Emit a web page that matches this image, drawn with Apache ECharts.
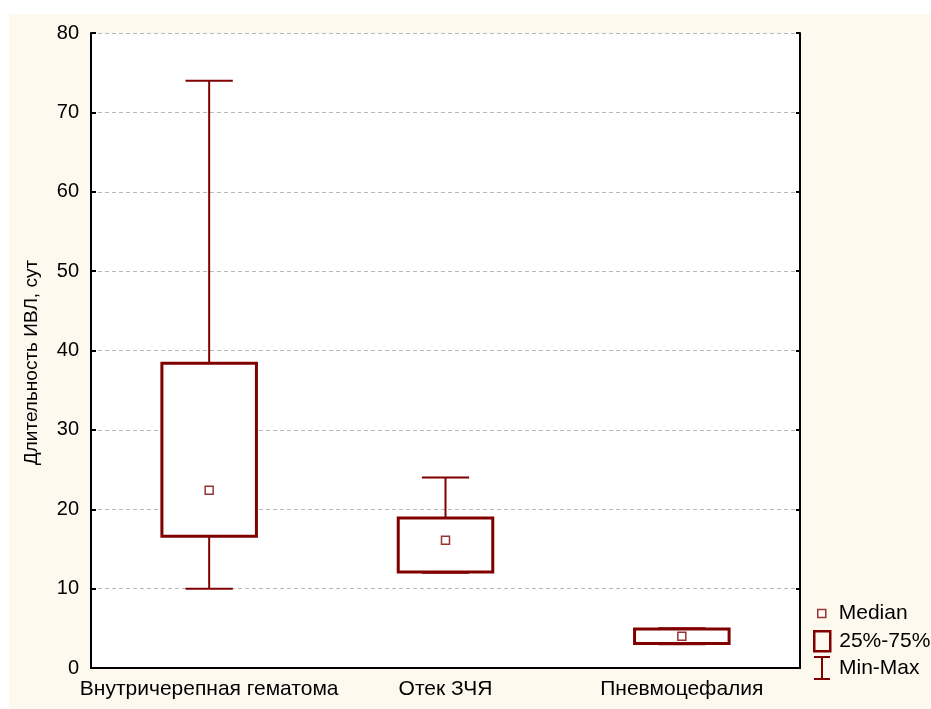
<!DOCTYPE html>
<html>
<head>
<meta charset="utf-8">
<script src="https://cdn.jsdelivr.net/npm/echarts@6/dist/echarts.min.js"></script>
<style>
html,body{margin:0;padding:0;background:#fff;}
#bg{position:absolute;left:9px;top:14px;width:922px;height:695px;background:#fef9ef;}
#chart{position:absolute;left:0;top:0;width:931px;height:709px;}
</style>
</head>
<body>
<div id="bg"></div>
<div id="chart"></div>
<script>
const categories = ['Внутричерепная гематома', 'Отек ЗЧЯ', 'Пневмоцефалия'];
const minVals = [10, 12, 3];
const q1Vals = [16.6, 12.1, 3.1];
const medianVals = [22.4, 16.1, 4.0];
const q3Vals = [38.4, 18.9, 4.9];
const maxVals = [74, 24, 5];
const yTicks = [0, 10, 20, 30, 40, 50, 60, 70, 80];
const yTitle = 'Длительность ИВЛ, сут';
const legendNames = ['Median', '25%-75%', 'Min-Max'];

const RED = '#800000';
const FONT = '"Liberation Sans", Arial, sans-serif';

const chart = echarts.init(document.getElementById('chart'), null, {renderer: 'canvas'});

const whiskerData = categories.map((c, i) => [i, minVals[i], maxVals[i]]);
const boxData = categories.map((c, i) => [i, q1Vals[i], q3Vals[i]]);
const medData = categories.map((c, i) => [i, medianVals[i]]);

function renderWhisker(params, api) {
  const i = api.value(0);
  const lo = api.coord([i, api.value(1)]);
  const hi = api.coord([i, api.value(2)]);
  const cw = api.size([1, 0])[0] * 0.2;
  const st = {stroke: RED, lineWidth: 2, fill: null};
  return {
    type: 'group',
    children: [
      {type: 'line', shape: {x1: lo[0], y1: lo[1], x2: hi[0], y2: hi[1]}, style: st},
      {type: 'line', shape: {x1: lo[0] - cw / 2, y1: lo[1], x2: lo[0] + cw / 2, y2: lo[1]}, style: st},
      {type: 'line', shape: {x1: hi[0] - cw / 2, y1: hi[1], x2: hi[0] + cw / 2, y2: hi[1]}, style: st}
    ]
  };
}

function renderBox(params, api) {
  const i = api.value(0);
  const lo = api.coord([i, api.value(1)]);
  const hi = api.coord([i, api.value(2)]);
  const w = api.size([1, 0])[0] * 0.4;
  return {
    type: 'rect',
    shape: {x: lo[0] - w / 2, y: hi[1], width: w, height: lo[1] - hi[1]},
    style: {fill: '#fff', stroke: RED, lineWidth: 3}
  };
}

const legendBase = {
  orient: 'vertical', padding: 0, selectedMode: false,
  textStyle: {fontFamily: FONT, fontSize: 21, color: '#000'}
};

const option = {
  animation: false,
  backgroundColor: 'transparent',
  grid: {left: 91, right: 131, top: 33, bottom: 41, show: true, backgroundColor: '#fff', borderWidth: 0},
  legend: [
    Object.assign({}, legendBase, {left: 817, top: 603, itemWidth: 8, itemHeight: 8,
      textStyle: Object.assign({}, legendBase.textStyle, {padding: [0, 0, 0, 8]}),
      data: [{name: legendNames[0], icon: 'path://M0,0L10,0L10,10L0,10Z', itemStyle: {color: '#fff', borderColor: RED, borderWidth: 1.5}}]}),
    Object.assign({}, legendBase, {left: 813, top: 630, itemWidth: 16, itemHeight: 20,
      textStyle: Object.assign({}, legendBase.textStyle, {padding: [0, 0, 0, 4]}),
      data: [{name: legendNames[1], icon: 'path://M0,0L16,0L16,20L0,20Z', itemStyle: {color: 'rgba(0,0,0,0)', borderColor: RED, borderWidth: 2.5}}]}),
    Object.assign({}, legendBase, {left: 813, top: 656, itemWidth: 16, itemHeight: 22,
      textStyle: Object.assign({}, legendBase.textStyle, {padding: [0, 0, 5, 4]}),
      data: [{name: legendNames[2], icon: 'path://M0,0L16,0M8,0L8,22M0,22L16,22', itemStyle: {color: 'rgba(0,0,0,0)', borderColor: RED, borderWidth: 2}}]})
  ],
  xAxis: [
    {
      type: 'category', data: categories, boundaryGap: true,
      axisLine: {lineStyle: {color: '#000', width: 2}},
      axisTick: {inside: true, alignWithLabel: true, length: 5, lineStyle: {color: '#000', width: 2}},
      axisLabel: {fontFamily: FONT, fontSize: 21, color: '#000', margin: 11, interval: 0},
      splitLine: {show: false}
    },
    {
      type: 'category', data: categories, position: 'top',
      axisLine: {lineStyle: {color: '#000', width: 2}},
      axisTick: {show: false}, axisLabel: {show: false}, splitLine: {show: false}
    }
  ],
  yAxis: [
    {
      type: 'value', min: 0, max: 80, interval: 10,
      name: yTitle, nameLocation: 'middle', nameGap: 50, nameRotate: 90,
      nameTextStyle: {fontFamily: FONT, fontSize: 19, color: '#000', padding: [0, 24, 0, 0]},
      axisLine: {show: true, lineStyle: {color: '#000', width: 2}},
      axisTick: {show: true, inside: true, length: 5, lineStyle: {color: '#000', width: 2}},
      axisLabel: {fontFamily: FONT, fontSize: 20, color: '#000', margin: 12,
        formatter: v => yTicks.includes(v) ? String(v) : ''},
      splitLine: {show: true, lineStyle: {color: '#b8b8b8', type: [4, 3], width: 1}}
    },
    {
      type: 'value', min: 0, max: 80, interval: 10, position: 'right',
      axisLine: {show: true, lineStyle: {color: '#000', width: 2}},
      axisTick: {show: true, inside: true, length: 4, lineStyle: {color: '#000', width: 2}},
      axisLabel: {show: false}, splitLine: {show: false}
    }
  ],
  series: [
    {name: legendNames[2], type: 'custom', renderItem: renderWhisker, data: whiskerData, encode: {x: 0, y: [1, 2]}, z: 2,
      itemStyle: {color: RED}},
    {name: legendNames[1], type: 'custom', renderItem: renderBox, data: boxData, encode: {x: 0, y: [1, 2]}, z: 3,
      itemStyle: {color: RED}},
    {name: legendNames[0], type: 'scatter', data: medData, symbol: 'rect', symbolSize: 8, z: 4,
      itemStyle: {color: '#fff', borderColor: RED, borderWidth: 1.5}}
  ]
};
chart.setOption(option);
</script>
</body>
</html>
